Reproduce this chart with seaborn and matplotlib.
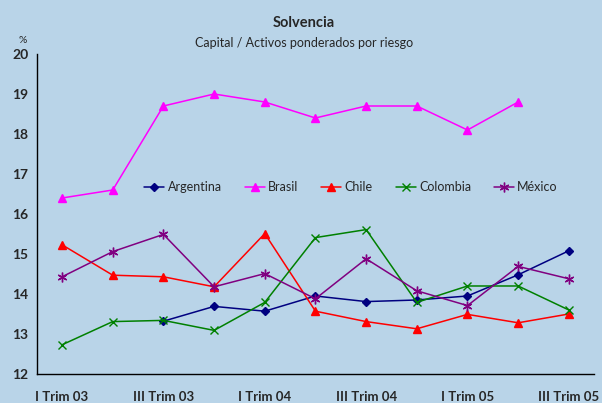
import matplotlib
matplotlib.use("Agg")
import matplotlib.pyplot as plt
import pandas as pd
import numpy as np
import seaborn as sns

trimestres = ["I Trim 03", "II Trim 03", "III Trim 03", "IV Trim 03",
              "I Trim 04", "II Trim 04", "III Trim 04", "IV Trim 04",
              "I Trim 05", "II Trim 05", "III Trim 05"]

argentina = [np.nan, np.nan, 13.32, 13.69, 13.57, 13.95, 13.81, 13.85, 13.95, 14.48, 15.08]
brasil = [16.4, 16.6, 18.7, 19.0, 18.8, 18.4, 18.7, 18.7, 18.1, 18.8, np.nan]
chile = [15.23, 14.47, 14.43, 14.18, 15.51, 13.57, 13.31, 13.13, 13.49, 13.28, 13.5]
colombia = [12.73, 13.31, 13.34, 13.09, 13.79, 15.41, 15.61, 13.79, 14.2, 14.2, 13.6]
mexico = [14.43, 15.06, 15.49, 14.18, 14.51, 13.88, 14.88, 14.08, 13.71, 14.69, 14.38]

paises = ["Argentina", "Brasil", "Chile", "Colombia", "México"]
colores = ["#000080", "#FF00FF", "#FF0000", "#008000", "#800080"]
marcadores = ["D", "^", "^", "x", (6, 2, 0)]
tamanos = [4, 6, 6, 6, 7]

series = [argentina, brasil, chile, colombia, mexico]
filas = []
for p, vals in zip(paises, series):
    for i, v in enumerate(vals):
        filas.append({"pais": p, "x": i, "valor": v})
df = pd.DataFrame(filas).dropna()

fondo = "#B9D4E8"
sns.set_style("white")
plt.rcParams["font.family"] = ["Lato", "DejaVu Sans"]

fig = plt.figure(figsize=(6.02, 4.03), dpi=100, facecolor=fondo)
ax = fig.add_axes([0.061, 0.072, 0.926, 0.794])
ax.set_facecolor(fondo)

for p, c, m, s in zip(paises, colores, marcadores, tamanos):
    d = df[df["pais"] == p]
    sns.lineplot(data=d, x="x", y="valor", color=c, marker=m, markersize=s,
                 markeredgecolor=c, markeredgewidth=1.0, linewidth=1.1,
                 label=p, ax=ax, estimator=None, sort=True)

ax.set_xlim(-0.5, len(trimestres) - 0.5)
ax.set_ylim(12, 20)
ax.set_yticks(range(12, 21))
ax.set_yticklabels([str(v) for v in range(12, 21)], fontweight="bold", fontsize=10)
ax.set_xticks(range(0, len(trimestres), 2))
ax.set_xticklabels(trimestres[::2], fontweight="bold", fontsize=9.5)
ax.set_xticks(np.arange(0.5, len(trimestres), 1.0), minor=True)
ax.tick_params(axis="x", which="major", length=0, pad=12)
ax.tick_params(axis="x", which="minor", direction="in", length=4, width=1, color="black")
ax.tick_params(axis="y", direction="in", length=4, width=1, color="black", pad=6)
ax.set_xlabel("")
ax.set_ylabel("")
for side in ["top", "right"]:
    ax.spines[side].set_visible(False)
for side in ["left", "bottom"]:
    ax.spines[side].set_color("black")
    ax.spines[side].set_linewidth(1)

leg = ax.legend(loc="center", bbox_to_anchor=(0.564, 0.584), ncol=5, frameon=False,
                fontsize=9, handlelength=1.6, handletextpad=0.25, columnspacing=1.85)

fig.text(0.505, 0.944, "Solvencia", ha="center", va="center", fontsize=10.5, fontweight="bold")
fig.text(0.505, 0.893, "Capital / Activos ponderados por riesgo", ha="center", va="center", fontsize=9)
fig.text(0.038, 0.9, "%", ha="center", va="center", fontsize=7.5)

fig.savefig("out.png", dpi=100, facecolor=fondo)
